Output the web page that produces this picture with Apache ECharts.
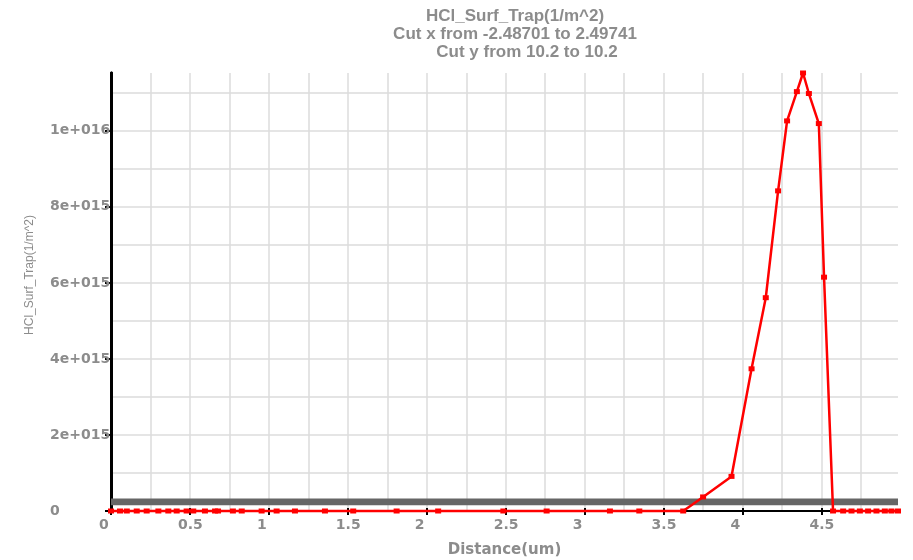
<!DOCTYPE html>
<html>
<head>
<meta charset="utf-8">
<script src="https://cdn.jsdelivr.net/npm/echarts@6/dist/echarts.min.js"></script>
<style>
  html, body { margin: 0; padding: 0; background: #fff; }
  #chart { width: 913px; height: 560px; }
</style>
</head>
<body>
<div id="chart"></div>
<script>
// Cut-line profile of HCl surface trap density along the distance axis
const distance = [
  0, 0.057, 0.10, 0.163, 0.226, 0.30, 0.363, 0.416, 0.479, 0.521, 0.595, 0.659, 0.678,
  0.772, 0.828, 0.954, 1.049, 1.165, 1.355, 1.534, 1.809, 2.072, 2.485, 2.759, 3.160,
  3.346, 3.624, 3.750, 3.930, 4.057, 4.147, 4.225, 4.282, 4.344, 4.383, 4.420, 4.483,
  4.516, 4.573, 4.637, 4.690, 4.743, 4.795, 4.848, 4.901, 4.943, 4.98442
];
const trapDensity = [
  0, 0, 0, 0, 0, 0, 0, 0, 0, 0, 0, 0, 0,
  0, 0, 0, 0, 0, 0, 0, 0, 0, 0, 0, 0,
  0, 0, 0.37e15, 0.91e15, 3.74e15, 5.61e15, 8.42e15, 10.26e15, 11.03e15, 11.52e15, 10.98e15, 10.19e15,
  6.15e15, 0, 0, 0, 0, 0, 0, 0, 0, 0
];
const titleLines = [
  'HCl_Surf_Trap(1/m^2)',
  'Cut x from -2.48701 to 2.49741',
  'Cut y from 10.2 to 10.2'
];
const yAxisTitle = 'HCl_Surf_Trap(1/m^2)';
const xAxisTitle = 'Distance(um)';
const xTicks = [0, 0.5, 1, 1.5, 2, 2.5, 3, 3.5, 4, 4.5];
const yTicks = [0, 2e15, 4e15, 6e15, 8e15, 1e16];
const xMax = 4.98442;
const yMax = 1.152e16;
// thin reference band drawn just above zero
const bandRange = [1.5e14, 3.3e14];

const points = distance.map((d, i) => [d, trapDensity[i]]);

const gray = '#8c8c8c';
const sans = 'Liberation Sans, Arial, sans-serif';
const wide = 'DejaVu Sans, Verdana, sans-serif';
const gridColor = '#dcdcdc';

const chart = echarts.init(document.getElementById('chart'), null, { renderer: 'canvas' });

const yLabel = v => {
  if (v === 0) return '0';
  const e = Math.floor(Math.log10(v) + 1e-9);
  const m = Math.round(v / Math.pow(10, e) * 100) / 100;
  return m + 'e+' + String(e).padStart(3, '0');
};

const titleStyle = { color: gray, fontFamily: sans, fontSize: 17, fontWeight: 'bold' };

chart.setOption({
  animation: false,
  backgroundColor: '#fff',
  title: [
    { text: titleLines[0], left: 510, top: 3, textAlign: 'center', textStyle: titleStyle },
    { text: titleLines[1], left: 510, top: 21, textAlign: 'center', textStyle: titleStyle },
    { text: titleLines[2], left: 522, top: 39, textAlign: 'center', textStyle: titleStyle }
  ],
  graphic: [
    {
      type: 'text', x: 30, y: 275, rotation: Math.PI / 2,
      style: {
        text: yAxisTitle, fill: gray, font: '12px ' + sans,
        textAlign: 'center', textVerticalAlign: 'middle'
      }
    }
  ],
  grid: {
    left: 111, right: 15, top: 73, bottom: 49,
    containLabel: false, outerBoundsMode: 'none'
  },
  xAxis: [
    {
      type: 'value', min: 0, max: xMax, interval: 0.5, position: 'bottom',
      name: xAxisTitle, nameLocation: 'middle', nameGap: 32,
      nameTextStyle: { color: gray, fontFamily: wide, fontSize: 15, fontWeight: 'bold' },
      axisLine: { show: true, onZero: false, lineStyle: { color: '#000', width: 2 } },
      axisTick: {
        show: true, inside: true, length: 3, customValues: xTicks,
        lineStyle: { color: '#000', width: 2 }
      },
      axisLabel: {
        color: gray, fontFamily: wide, fontSize: 14, fontWeight: 'bold', margin: 7,
        align: 'left', padding: [0, 0, 0, -12], customValues: xTicks
      },
      splitLine: { show: true, lineStyle: { color: gridColor, width: 1.5 } },
      minorTick: { show: false, splitNumber: 2 },
      minorSplitLine: { show: true, lineStyle: { color: gridColor, width: 1.5 } }
    },
    {
      type: 'value', min: 0, max: xMax, interval: 0.5, position: 'top',
      axisLine: { show: true, lineStyle: { color: '#000', width: 2 } },
      axisTick: {
        show: true, inside: true, length: 4, customValues: xTicks,
        lineStyle: { color: '#000', width: 2 }
      },
      axisLabel: { show: false },
      splitLine: { show: false }
    }
  ],
  yAxis: [
    {
      type: 'value', min: 0, max: yMax, interval: 2e15, position: 'left',
      axisLine: { show: true, onZero: false, lineStyle: { color: '#000', width: 3 } },
      axisTick: {
        show: true, inside: false, length: 5, customValues: yTicks,
        lineStyle: { color: '#000', width: 2 }
      },
      axisLabel: {
        color: gray, fontFamily: wide, fontSize: 14, fontWeight: 'bold',
        align: 'left', margin: 61, formatter: yLabel, customValues: yTicks
      },
      splitLine: { show: true, lineStyle: { color: gridColor, width: 1.5 } },
      minorTick: { show: false, splitNumber: 2 },
      minorSplitLine: { show: true, lineStyle: { color: gridColor, width: 1.5 } }
    },
    {
      type: 'value', min: 0, max: yMax, interval: 2e15, position: 'right',
      axisLine: { show: true, lineStyle: { color: '#000', width: 3 } },
      axisTick: {
        show: true, inside: true, length: 6, customValues: yTicks,
        lineStyle: { color: '#000', width: 2 }
      },
      axisLabel: { show: false },
      splitLine: { show: false }
    }
  ],
  series: [
    {
      type: 'line',
      data: points,
      xAxisIndex: 0, yAxisIndex: 0,
      symbol: 'rect', symbolSize: [6, 5], showAllSymbol: true,
      clip: false,
      lineStyle: { color: '#ff0000', width: 2.5 },
      itemStyle: { color: '#ff0000' },
      z: 5,
      markArea: {
        silent: true,
        itemStyle: { color: '#666666' },
        data: [[{ yAxis: bandRange[0] }, { yAxis: bandRange[1] }]]
      }
    }
  ]
});
</script>
</body>
</html>
